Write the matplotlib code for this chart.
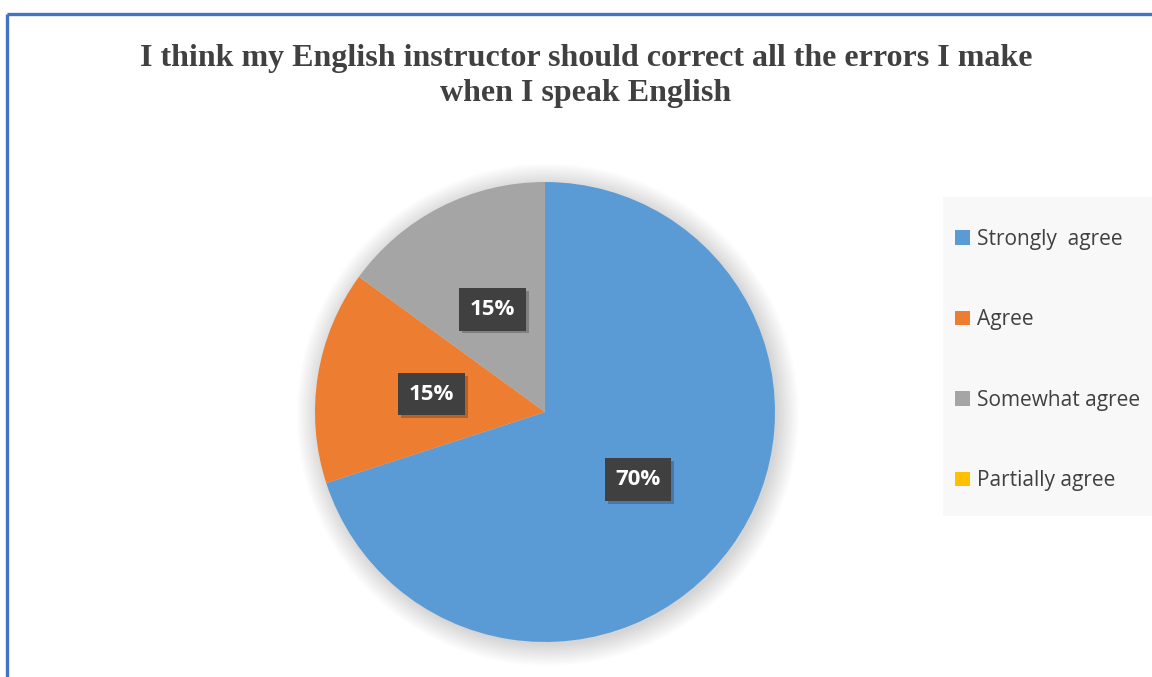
import matplotlib
matplotlib.use("Agg")
import matplotlib.pyplot as plt
from matplotlib.patches import Rectangle, Circle
from matplotlib.lines import Line2D
import matplotlib.patheffects as pe

categories = ["Strongly  agree", "Agree", "Somewhat agree", "Partially agree"]
values = [70, 15, 15, 0]
colors = ["#5b9bd5", "#ed7d31", "#a5a5a5", "#ffc000"]
title = "I think my English instructor should correct all the errors I make\nwhen I speak English"

W, H = 1152, 677
fig = plt.figure(figsize=(W / 100, H / 100), dpi=100)
fig.patch.set_facecolor("white")

# frame lines on the left and top
border = "#4472c4"
fig.add_artist(Line2D([7 / W, 7 / W], [0, 1 - 14 / H], color=border, lw=2.4,
                      transform=fig.transFigure, solid_capstyle="butt"))
fig.add_artist(Line2D([7 / W, 1], [1 - 14 / H, 1 - 14 / H], color=border, lw=2.4,
                      transform=fig.transFigure, solid_capstyle="butt"))

fig.text(586 / W, 1 - 76 / H, title, ha="center", va="center",
         fontsize=23, fontweight="bold", family="Liberation Serif",
         color="#404040", linespacing=1.25)

# pie area
cx, cy, r = 545, 412, 230
ax = fig.add_axes([(cx - r) / W, (H - cy - r) / H, 2 * r / W, 2 * r / H])

# soft shadow behind the pie
for i in range(14):
    ax.add_patch(Circle((0.012, -0.012), 1.0 + 0.007 * i, color="black",
                        alpha=0.010, lw=0, zorder=0, clip_on=False))


def pct_label(p):
    return f"{p:.0f}%" if p > 0.5 else ""


wedges, texts, autotexts = ax.pie(
    values, colors=colors, startangle=90, counterclock=False,
    autopct=pct_label, pctdistance=0.5,
    wedgeprops=dict(linewidth=0),
    textprops=dict(color="white", fontsize=16, fontweight="bold", family="Open Sans"),
)
for w in wedges:
    w.set_zorder(2)
for t in autotexts:
    t.set_zorder(5)
    t.set_bbox(dict(boxstyle="square,pad=0.48", facecolor="#404040", edgecolor="none"))
    t.get_bbox_patch().set_path_effects([
        pe.SimplePatchShadow(offset=(2, -2), shadow_rgbFace="black", alpha=0.22),
        pe.Normal(),
    ])
ax.set_xlim(-1, 1)
ax.set_ylim(-1, 1)
ax.set_aspect("equal", adjustable="box")
ax.axis("off")

# legend panel
fig.add_artist(Rectangle((943 / W, (H - 516) / H), (W - 943) / W, 319 / H,
                         transform=fig.transFigure, facecolor="#f8f8f8",
                         edgecolor="none", zorder=0))
leg = fig.legend(wedges, categories, loc="upper left",
                 bbox_to_anchor=(955 / W, 1 - 229 / H),
                 frameon=False, labelspacing=2.85,
                 handlelength=0.7, handleheight=0.7, handletextpad=0.35,
                 borderpad=0, borderaxespad=0,
                 prop=dict(family="Open Sans", size=15))
for t in leg.get_texts():
    t.set_color("#404040")

fig.savefig("out.png", dpi=100)
